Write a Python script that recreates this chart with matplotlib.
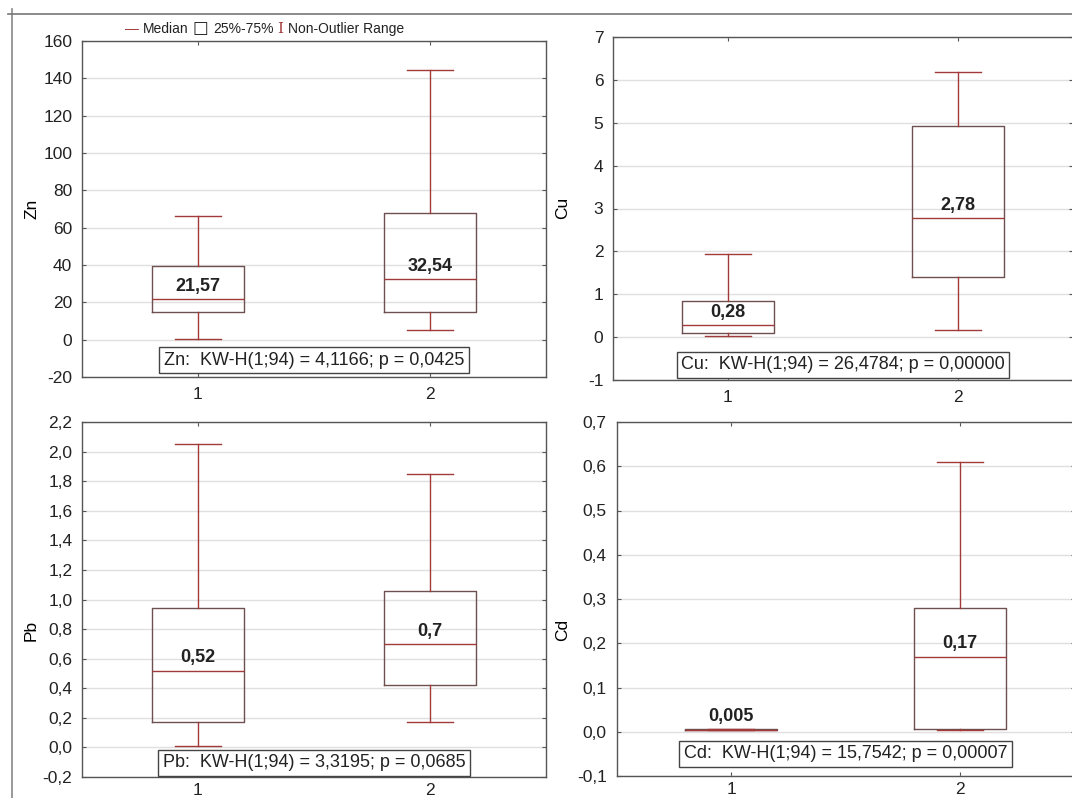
import matplotlib
matplotlib.use("Agg")
import matplotlib.pyplot as plt
from matplotlib.lines import Line2D
from matplotlib.ticker import FuncFormatter, MultipleLocator
from matplotlib.offsetbox import TextArea, HPacker, AnnotationBbox

plt.rcParams['font.family'] = ['Liberation Sans', 'DejaVu Sans']

groups = ["1", "2"]
elements = ["Zn", "Cu", "Pb", "Cd"]

# per element: [group1, group2]
medians = {"Zn": [21.57, 32.54], "Cu": [0.28, 2.78], "Pb": [0.52, 0.70], "Cd": [0.005, 0.17]}
q1 = {"Zn": [15.0, 15.0], "Cu": [0.09, 1.40], "Pb": [0.17, 0.42], "Cd": [0.004, 0.006]}
q3 = {"Zn": [39.3, 68.0], "Cu": [0.84, 4.92], "Pb": [0.94, 1.06], "Cd": [0.006, 0.28]}
whis_lo = {"Zn": [0.5, 5.0], "Cu": [0.02, 0.16], "Pb": [0.01, 0.17], "Cd": [0.003, 0.005]}
whis_hi = {"Zn": [66.4, 144.6], "Cu": [1.94, 6.18], "Pb": [2.05, 1.85], "Cd": [0.007, 0.61]}
median_labels = {"Zn": ["21,57", "32,54"], "Cu": ["0,28", "2,78"], "Pb": ["0,52", "0,7"], "Cd": ["0,005", "0,17"]}
kw_text = {
    "Zn": "Zn:  KW-H(1;94) = 4,1166; p = 0,0425",
    "Cu": "Cu:  KW-H(1;94) = 26,4784; p = 0,00000",
    "Pb": "Pb:  KW-H(1;94) = 3,3195; p = 0,0685",
    "Cd": "Cd:  KW-H(1;94) = 15,7542; p = 0,00007",
}
kw_y = {"Zn": -10.9, "Cu": -0.65, "Pb": -0.105, "Cd": -0.05}
ylims = {"Zn": (-20, 160), "Cu": (-1, 7), "Pb": (-0.2, 2.2), "Cd": (-0.1, 0.7)}
ysteps = {"Zn": 20, "Cu": 1, "Pb": 0.2, "Cd": 0.1}
ydec = {"Zn": 0, "Cu": 0, "Pb": 1, "Cd": 1}

W, H = 1072, 798
fig = plt.figure(figsize=(W / 100, H / 100), dpi=100)

# axes pixel boxes: left, right, top, bottom
pix = {
    "Zn": (82, 546, 41, 377),
    "Cu": (613, 1073, 37, 380),
    "Pb": (82, 546, 422, 777),
    "Cd": (616.5, 1074.5, 422, 776),
}
# y-label anchor positions in pixels
ylabel_pix = {"Zn": (39, 209), "Cu": (570, 208), "Pb": (39, 630), "Cd": (570, 630)}

RED = "#a23a3a"
BOXC = "#6e5050"
SPINE = "#555555"
FS = 12.5

for el in elements:
    l, r, t, b = pix[el]
    ax = fig.add_axes([l / W, 1 - b / H, (r - l) / W, (b - t) / H])
    stats = []
    for i in range(2):
        stats.append(dict(med=medians[el][i], q1=q1[el][i], q3=q3[el][i],
                          whislo=whis_lo[el][i], whishi=whis_hi[el][i], fliers=[]))
    ax.bxp(stats, positions=[1, 2], widths=0.4, capwidths=0.2, showfliers=False,
           boxprops=dict(color=BOXC, linewidth=1.0),
           medianprops=dict(color=RED, linewidth=1.0),
           whiskerprops=dict(color=RED, linewidth=1.0),
           capprops=dict(color=RED, linewidth=1.0),
           manage_ticks=False)
    ax.set_xlim(0.5, 2.5)
    ax.set_ylim(*ylims[el])
    ax.set_xticks([1, 2])
    ax.set_xticklabels(groups)
    ax.yaxis.set_major_locator(MultipleLocator(ysteps[el]))
    d = ydec[el]
    ax.yaxis.set_major_formatter(FuncFormatter(
        lambda v, p, d=d: (f"{0:.{d}f}" if abs(v) < 1e-9 else f"{v:.{d}f}").replace(".", ",")))
    ax.grid(axis="y", color="#e0e0e0", linewidth=1.0)
    ax.set_axisbelow(True)
    ax.tick_params(direction="in", length=3, top=True, right=True, labelsize=FS,
                   colors=SPINE, labelcolor="#222222", pad=7)
    ax.tick_params(axis="x", pad=7 if t < 100 else 4)
    for s in ax.spines.values():
        s.set_color(SPINE)
        s.set_linewidth(1.0)
    ax.set_ylabel(el, fontsize=FS)
    lx, ly = ylabel_pix[el]
    ax.yaxis.set_label_coords((lx - l) / (r - l), 1 - (ly - t) / (b - t))
    for i in range(2):
        ax.annotate(median_labels[el][i], xy=(i + 1, medians[el][i]), xytext=(0, 3),
                    textcoords="offset points", ha="center", va="bottom",
                    fontsize=13, fontweight="bold", color="#222222")
    ax.text(1.5, kw_y[el], kw_text[el], ha="center", va="center", fontsize=13,
            color="#222222",
            bbox=dict(boxstyle="square,pad=0.25", facecolor="white", edgecolor="#444444", linewidth=1.0))

# outer frame lines
fig.add_artist(Line2D([12 / W, 12 / W], [0, 1 - 9 / H], color="#888888", linewidth=1.2))
fig.add_artist(Line2D([8 / W, 1], [1 - 14 / H, 1 - 14 / H], color="#777777", linewidth=1.2))

# legend
parts = [
    TextArea("\u2014", textprops=dict(color=RED, fontsize=10)),
    TextArea("Median", textprops=dict(color="#222222", fontsize=10)),
    TextArea("\u25a1", textprops=dict(color="#222222", fontsize=12, family="DejaVu Sans")),
    TextArea("25%-75%", textprops=dict(color="#222222", fontsize=10)),
    TextArea("I", textprops=dict(color=RED, fontsize=11, family="DejaVu Serif")),
    TextArea("Non-Outlier Range", textprops=dict(color="#222222", fontsize=10)),
]
pack = HPacker(children=parts, align="baseline", pad=0, sep=3)
ab = AnnotationBbox(pack, (125 / W, 1 - 28 / H), xycoords="figure fraction",
                    box_alignment=(0, 0.5), frameon=False)
fig.add_artist(ab)

fig.savefig("out.png", dpi=100)
